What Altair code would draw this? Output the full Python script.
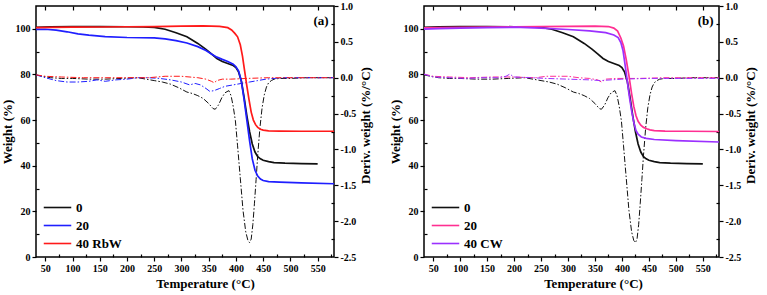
import altair as alt
import pandas as pd

# ---- TGA weight curves (%) ----
t_w0 = [33, 60, 100, 150, 200, 230, 250, 270, 290, 310, 330, 345, 355, 365, 375, 385, 395,
        400, 405, 410, 415, 420, 425, 430, 435, 440, 445, 450, 460, 470, 490, 520, 550]
w0 = [100.6, 100.9, 101.0, 101.0, 100.9, 100.8, 100.6, 99.8, 98.3, 96.5, 93.6, 91.0, 89.0, 87.0,
      85.7, 84.8, 83.9, 83.0, 81.0, 77.0, 70.0, 62.0, 55.0, 49.5, 46.0, 44.0, 43.0, 42.4, 41.8,
      41.4, 41.1, 40.9, 40.8]

t_w20r = [33, 50, 70, 90, 110, 130, 160, 200, 250, 270, 290, 310, 330, 345, 355, 365, 375, 385,
          395, 400, 405, 410, 415, 420, 425, 430, 435, 440, 445, 450, 460, 480, 520, 580]
w20r = [99.8, 99.8, 99.4, 98.7, 97.8, 97.2, 96.6, 96.2, 96.0, 95.6, 94.8, 93.8, 92.2, 90.5, 89.0,
        87.6, 86.6, 85.7, 84.5, 83.4, 81.5, 77.0, 69.0, 60.0, 51.0, 43.0, 38.0, 35.5, 34.2, 33.5,
        33.0, 32.8, 32.5, 32.1]

t_w40r = [33, 60, 100, 150, 200, 250, 300, 340, 370, 385, 392, 398, 403, 408, 412, 416, 420, 424,
          428, 432, 436, 440, 445, 450, 460, 480, 520, 580]
w40r = [100.5, 100.6, 100.7, 100.8, 100.9, 101.0, 101.2, 101.3, 101.1, 100.5, 99.5, 98.0, 96.5,
        93.0, 88.0, 81.5, 75.0, 69.0, 63.5, 60.0, 58.0, 56.8, 56.0, 55.6, 55.3, 55.2, 55.1, 55.1]

t_w20c = [33, 60, 100, 150, 200, 250, 300, 350, 375, 385, 392, 398, 403, 408, 413, 418, 422, 426,
          430, 435, 440, 446, 452, 460, 480, 520, 580]
w20c = [100.4, 100.5, 100.6, 100.8, 100.9, 101.0, 101.1, 101.2, 101.0, 100.3, 99.0, 96.0, 92.5,
        86.5, 79.5, 71.5, 66.0, 62.0, 59.5, 57.8, 56.8, 56.2, 55.7, 55.4, 55.2, 55.1, 55.0]

t_w40c = [33, 60, 100, 150, 200, 250, 300, 340, 370, 385, 393, 398, 402, 406, 410, 414, 418, 422,
          426, 430, 436, 445, 460, 500, 580]
w40c = [99.9, 100.1, 100.3, 100.5, 100.7, 100.3, 99.7, 99.1, 98.3, 97.3, 96.2, 94.0, 90.5, 84.0,
        77.0, 70.0, 64.0, 59.0, 55.5, 53.8, 52.6, 52.0, 51.5, 51.0, 50.4]

# ---- DTG derivative curves (%/°C) ----
t_d0 = [33, 45, 60, 80, 100, 130, 160, 190, 220, 250, 265, 280, 295, 310, 320, 330, 340, 350, 358,
        362, 368, 374, 380, 387, 391, 395, 399, 403, 408, 413, 418, 422, 425, 428, 431, 434, 437,
        440, 444, 448, 452, 456, 460, 465, 470, 480, 500, 530, 560, 580]
d0 = [0.04, 0.02, 0.0, -0.01, -0.01, -0.02, -0.02, -0.01, 0.0, -0.04, -0.06, -0.09, -0.14, -0.20,
      -0.22, -0.25, -0.29, -0.36, -0.43, -0.44, -0.38, -0.28, -0.21, -0.18, -0.25, -0.40, -0.60,
      -0.95, -1.40, -1.85, -2.15, -2.27, -2.30, -2.25, -2.05, -1.75, -1.42, -1.08, -0.70, -0.42,
      -0.24, -0.13, -0.07, -0.04, -0.02, -0.01, -0.01, 0.0, 0.0, 0.0]

t_d20r = [33, 50, 70, 90, 110, 130, 145, 160, 180, 200, 220, 240, 260, 280, 300, 315, 325, 335,
          345, 352, 360, 370, 380, 395, 410, 425, 440, 455, 470, 490, 520, 580]
d20r = [0.04, 0.0, -0.04, -0.06, -0.06, -0.05, -0.03, -0.05, -0.03, -0.02, 0.0, 0.0, -0.01, -0.03,
        -0.06, -0.10, -0.08, -0.10, -0.15, -0.19, -0.18, -0.15, -0.12, -0.10, -0.08, -0.06, -0.04,
        -0.02, -0.01, 0.0, 0.0, 0.0]

t_d40r = [33, 50, 80, 120, 160, 200, 240, 270, 300, 330, 345, 355, 360, 365, 375, 390, 420, 460, 580]
d40r = [0.04, 0.02, 0.01, 0.0, 0.0, 0.0, 0.0, 0.02, 0.02, 0.0, -0.02, -0.05, -0.07, -0.04, -0.02,
        -0.02, -0.01, 0.0, 0.0]

t_d20c = [33, 50, 80, 120, 160, 200, 240, 260, 280, 300, 320, 340, 355, 362, 370, 390, 430, 480, 580]
d20c = [0.05, 0.02, 0.01, 0.0, 0.01, 0.01, 0.0, 0.02, 0.02, 0.02, 0.0, -0.01, -0.03, -0.06, -0.02,
        -0.01, -0.01, 0.0, 0.0]

t_d40c = [33, 50, 80, 110, 140, 170, 185, 192, 200, 230, 260, 300, 340, 360, 400, 450, 580]
d40c = [0.05, 0.01, 0.0, -0.01, 0.0, 0.0, 0.02, 0.05, 0.01, 0.0, -0.01, -0.02, -0.03, -0.04, -0.02,
        -0.01, -0.01]

# ---- series names, colours and panel tags ----
names_a = ["0", "20", "40 RbW"]
colors_a = ["#111111", "#1f1fff", "#ff1a1a"]
names_b = ["0", "20", "40 CW"]
colors_b = ["#111111", "#ff2f92", "#9b30ff"]
tag_a = "(a)"
tag_b = "(b)"
tag_temp = 570
tag_weight = 103.5

# ---- axis tick values ----
x_major = [50, 100, 150, 200, 250, 300, 350, 400, 450, 500, 550]
x_minor = [75, 125, 175, 225, 275, 325, 375, 425, 475, 525, 575]
w_major = [0, 20, 40, 60, 80, 100]
w_minor = [10, 30, 50, 70, 90]
d_major = [-2.5, -2.0, -1.5, -1.0, -0.5, 0.0, 0.5, 1.0]
d_minor = [-2.25, -1.75, -1.25, -0.75, -0.25, 0.25, 0.75]

FONT = "'Liberation Serif', 'Times New Roman', serif"
X_DOMAIN = [33, 580]
W_DOMAIN = [0, 110]
D_DOMAIN = [-2.5, 1.0]

# legend sample: a long horizontal stroke
LINE_SYMBOL = "M-2.75,0L2.75,0"


def frame(pairs, names):
    parts = [pd.DataFrame({"series": n, "T": t, "v": v}) for n, (t, v) in zip(names, pairs)]
    return pd.concat(parts, ignore_index=True)


def xs():
    return alt.Scale(domain=X_DOMAIN, nice=False, zero=False)


def ws():
    return alt.Scale(domain=W_DOMAIN, nice=False, zero=False)


def ds():
    return alt.Scale(domain=D_DOMAIN, nice=False, zero=False)


def tick_axis(orient, values, size):
    # tick-only axis pulled inside the frame so its ticks point inward
    return alt.Axis(orient=orient, values=values, labels=False, domain=False, grid=False,
                    tickSize=size, offset=-size, tickWidth=1.2, tickColor="black", title=None)


def panel(names, colors, w_pairs, d_pairs, tag, w=298):
    wdf = frame(w_pairs, names)
    ddf = frame(d_pairs, names)
    cscale = alt.Scale(domain=names, range=colors)

    legend = alt.Legend(orient="none", legendX=15, legendY=195, title=None,
                        symbolType=LINE_SYMBOL, symbolSize=100, symbolStrokeWidth=1.6,
                        labelFont=FONT, labelFontSize=13, labelFontWeight="bold",
                        labelColor="black", rowPadding=4, padding=0, labelOffset=12)

    ticks_a = alt.Chart(wdf).mark_line(opacity=0).encode(
        x=alt.X("T:Q", scale=xs(), axis=tick_axis("top", x_major, 4)),
        y=alt.Y("v:Q", scale=ws(), axis=tick_axis("left", w_minor, 3)),
    )
    ticks_b = alt.Chart(ddf).mark_line(opacity=0).encode(
        x=alt.X("T:Q", scale=xs(), axis=tick_axis("bottom", x_minor, 3)),
        y=alt.Y("v:Q", scale=ds(), axis=tick_axis("right", d_minor, 3)),
    )

    deriv = alt.Chart(ddf).mark_line(strokeWidth=1, strokeDash=[6, 2, 1.5, 2]).encode(
        x=alt.X("T:Q", scale=xs(), axis=None),
        y=alt.Y("v:Q", scale=ds(), axis=alt.Axis(
            orient="right", values=d_major, title="Deriv. weight (%/°C)",
            labelExpr="replace(format(datum.value, '.1f'), '\u2212', '-')",
            titleAngle=270, titleBaseline="top", titlePadding=4, titleY=119)),
        color=alt.Color("series:N", scale=cscale, legend=None),
    )

    weight = alt.Chart(wdf).mark_line(strokeWidth=1.7).encode(
        x=alt.X("T:Q", scale=xs(), axis=alt.Axis(
            orient="bottom", values=x_major, title="Temperature (°C)", titlePadding=4,
            titleX=169)),
        y=alt.Y("v:Q", scale=ws(), axis=alt.Axis(
            orient="left", values=w_major, title="Weight (%)", titlePadding=1)),
        color=alt.Color("series:N", scale=cscale, sort=names, legend=legend),
    )

    label = alt.Chart(pd.DataFrame({"T": [tag_temp], "v": [tag_weight], "txt": [tag]})).mark_text(
        align="right", baseline="middle", font=FONT, fontSize=13, fontWeight="bold", color="black"
    ).encode(
        x=alt.X("T:Q", scale=xs(), axis=None),
        y=alt.Y("v:Q", scale=ws(), axis=None),
        text="txt:N",
    )

    return alt.layer(ticks_a, ticks_b, deriv, weight, label).resolve_scale(
        x="independent", y="independent"
    ).resolve_legend(color="independent").properties(width=w, height=251)


panel_a = panel(names_a, colors_a,
                [(t_w0, w0), (t_w20r, w20r), (t_w40r, w40r)],
                [(t_d0, d0), (t_d20r, d20r), (t_d40r, d40r)], tag_a, w=298)
panel_b = panel(names_b, colors_b,
                [(t_w0, w0), (t_w20c, w20c), (t_w40c, w40c)],
                [(t_d0, d0), (t_d20c, d20c), (t_d40c, d40c)], tag_b, w=295)

chart = alt.hconcat(panel_a, panel_b, spacing=14).resolve_scale(
    color="independent"
).resolve_legend(color="independent").configure(
    font=FONT,
    padding={"left": 0, "top": 0, "right": 0, "bottom": 0},
    background="white",
).configure_view(
    stroke="black", strokeWidth=1.5
).configure_axis(
    labelFont=FONT, labelFontSize=10, labelFontWeight="bold", labelColor="black",
    labelPadding=2, titleFont=FONT, titleFontSize=13, titleFontWeight="bold",
    titleColor="black", tickColor="black", tickWidth=1.2, tickSize=4, domain=False, grid=False,
)

chart.save("out.html", embed_options={"renderer": "svg", "actions": False})
